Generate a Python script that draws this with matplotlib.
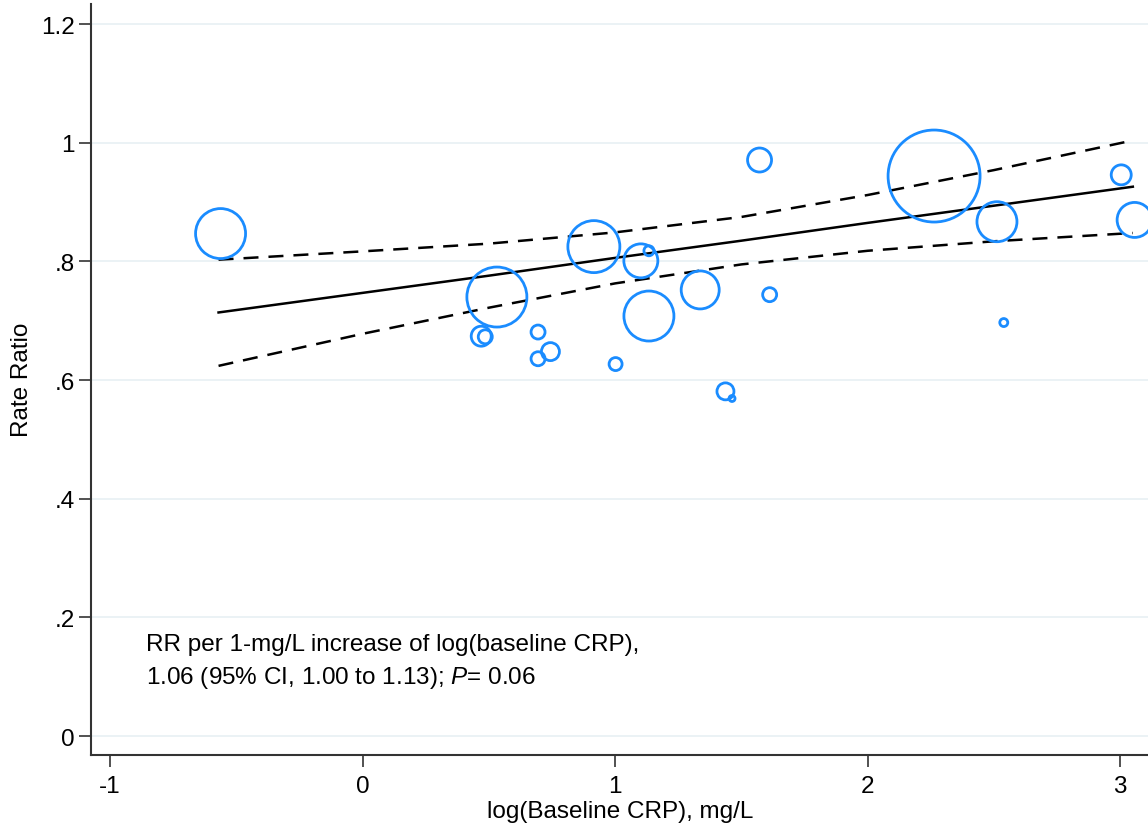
import numpy as np
import matplotlib
matplotlib.use("Agg")
import matplotlib.pyplot as plt

plt.rcParams['font.family'] = ['Liberation Sans', 'DejaVu Sans']
plt.rcParams['mathtext.fontset'] = 'custom'
plt.rcParams['mathtext.rm'] = 'Liberation Sans'
plt.rcParams['mathtext.it'] = 'Liberation Sans:italic'

# study-level points: log(baseline CRP), rate ratio, relative weight
crp = [-0.562, 0.470, 0.486, 0.532, 0.695, 0.695, 0.744, 0.916, 1.002, 1.102,
       1.134, 1.134, 1.337, 1.437, 1.463, 1.572, 1.612, 2.263, 2.512, 2.539,
       3.004, 3.057]
rr = [0.847, 0.674, 0.673, 0.740, 0.681, 0.636, 0.648, 0.825, 0.627, 0.801,
      0.818, 0.708, 0.752, 0.581, 0.569, 0.971, 0.744, 0.944, 0.867, 0.697,
      0.946, 0.870]
weight = [26, 11, 8, 31, 8, 8, 10, 27, 7.5, 18,
          6, 26, 20, 9.5, 4, 13, 8, 47, 21, 5,
          11, 18.5]  # bubble radius, px

# fitted line and 95% CI band
fit_x = [-0.57, 0.0, 0.5, 1.0, 1.5, 2.0, 2.5, 3.05]
fit_y = [0.714, 0.747, 0.776, 0.806, 0.835, 0.865, 0.894, 0.926]
ci_hi = [0.803, 0.817, 0.830, 0.849, 0.875, 0.912, 0.954, 1.004]
ci_lo = [0.624, 0.678, 0.722, 0.763, 0.795, 0.818, 0.834, 0.848]

xticks = [-1, 0, 1, 2, 3]
yticks = [0, 0.2, 0.4, 0.6, 0.8, 1.0, 1.2]
ylabels = ['0', '.2', '.4', '.6', '.8', '1', '1.2']

W, H = 1148, 829
fs = 17.5
fig = plt.figure(figsize=(W / 100, H / 100), dpi=100)
ax = fig.add_axes([91 / W, 73 / H, 1 - 91 / W, (756 - 5) / H])

for y in yticks:
    ax.axhline(y, color='#e8f0f3', lw=1.2, zorder=0)

s = [(2 * (r - 1) * 0.72) ** 2 for r in weight]
ax.scatter(crp, rr, s=s, facecolors='none', edgecolors='#1a8cff', linewidths=2.0, zorder=3)

ax.plot(fit_x, fit_y, color='black', lw=1.8, zorder=2)
ax.plot(fit_x, ci_hi, color='black', lw=1.8, dashes=(6, 4), zorder=2)
ax.plot(fit_x, ci_lo, color='black', lw=1.8, dashes=(6, 4), zorder=2)

ax.set_xlim(-1.075, 3.11)
ax.set_ylim(-0.032, 1.234)
ax.set_xticks(xticks)
ax.set_xticklabels([str(t) for t in xticks])
ax.set_yticks(yticks)
ax.set_yticklabels(ylabels)
ax.tick_params(axis='both', labelsize=fs, length=8.5, width=1.2, color='#333333')
ax.tick_params(axis='x', pad=6)
ax.tick_params(axis='y', pad=3)

for side in ['top', 'right']:
    ax.spines[side].set_visible(False)
for side in ['left', 'bottom']:
    ax.spines[side].set_linewidth(1.5)
    ax.spines[side].set_color('#333333')

fig.text(620 / W, 1 - 812 / H, 'log(Baseline CRP), mg/L', fontsize=fs, ha='center', va='center')
fig.text(22 / W, 1 - 380 / H, 'Rate Ratio', fontsize=fs, rotation=90, ha='center', va='center')

fig.text(146 / W, 1 - 645 / H, 'RR per 1-mg/L increase of log(baseline CRP),',
         fontsize=fs, ha='left', va='center')
fig.text(146 / W, 1 - 678 / H, '1.06 (95% CI, 1.00 to 1.13); $\\it{P}$= 0.06',
         fontsize=fs, ha='left', va='center')

fig.savefig('out.png', dpi=100)
